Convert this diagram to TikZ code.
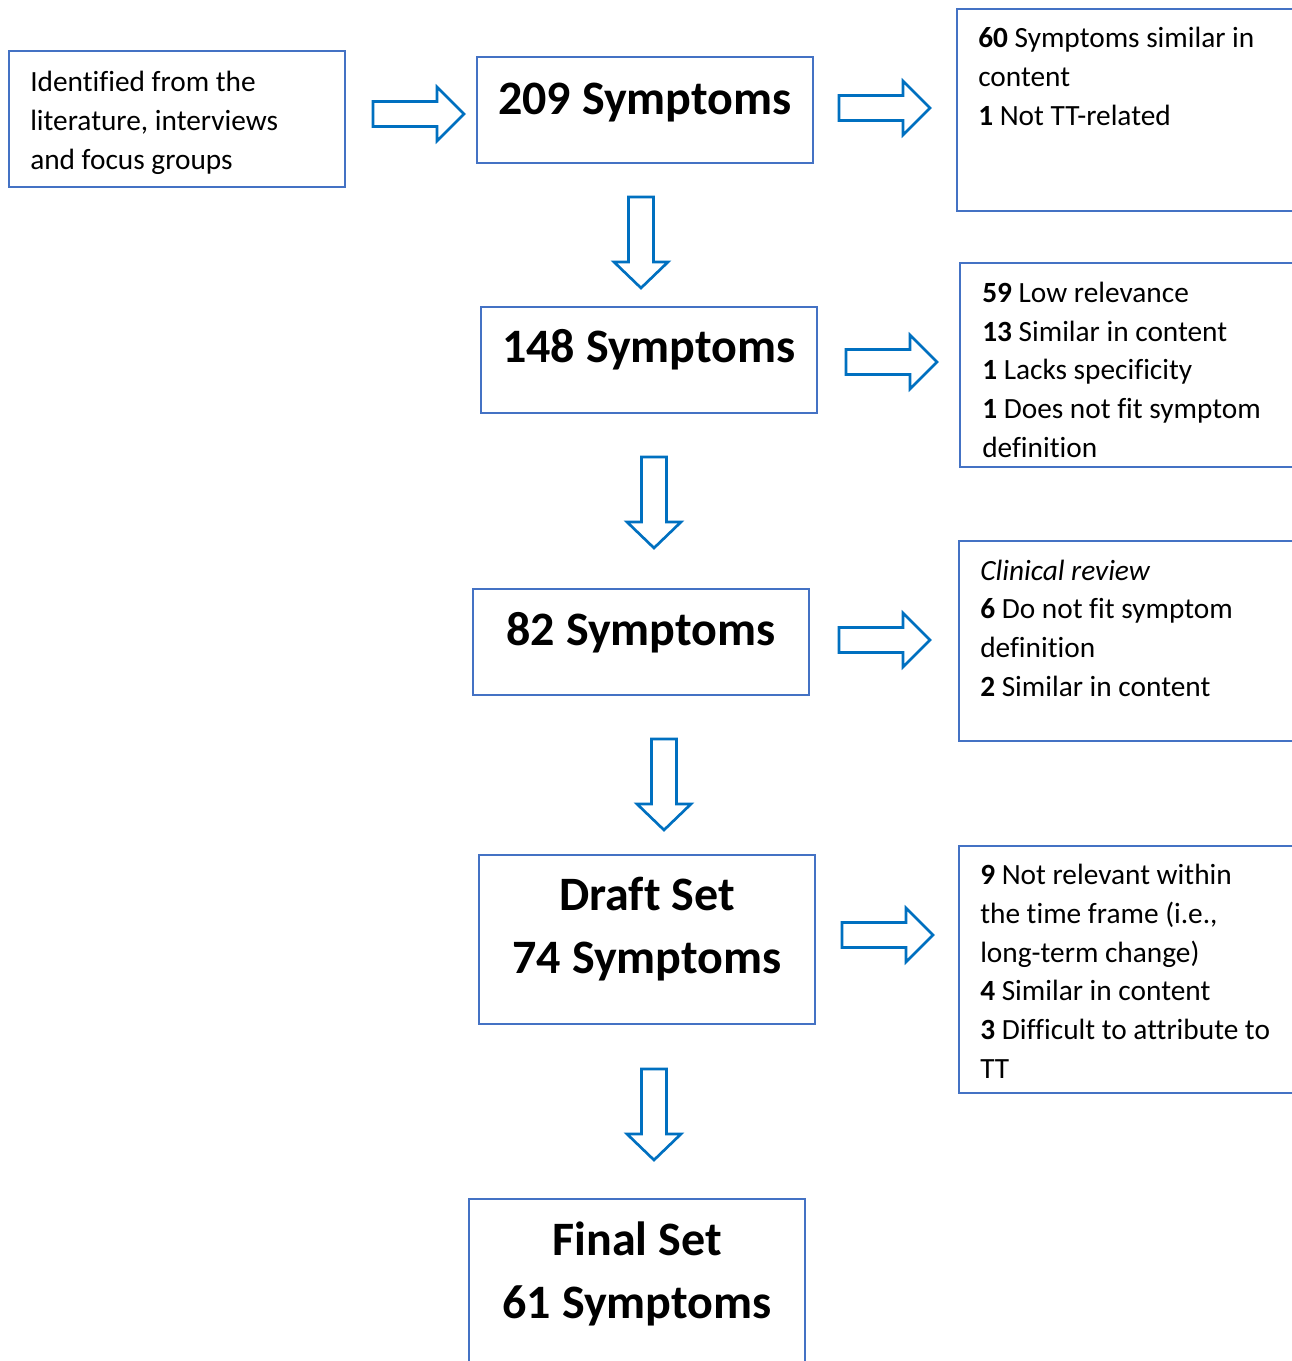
\documentclass[tikz,border=0pt]{standalone}
\usepackage{fontspec}
\setmainfont{Carlito}[Ligatures=NoCommon]
\definecolor{boxblue}{HTML}{4472C4}
\definecolor{arrblue}{HTML}{0070C0}
\newcommand{\bigtxt}{\fontsize{36pt}{47.25pt}\selectfont\bfseries}
\newcommand{\smtxt}{\fontsize{22pt}{29pt}\selectfont}
\newcommand{\rarr}[3]{% name, left x, centre y
  \draw[blockarrow] (#2,#3-12.5) -- (#2+64,#3-12.5) -- (#2+64,#3-27) -- (#2+91,#3)
    -- (#2+64,#3+27) -- (#2+64,#3+12.5) -- (#2,#3+12.5) -- cycle;
  \coordinate (#1) at (#2+45,#3);}
\newcommand{\darr}[3]{% name, centre x, top y
  \draw[blockarrow] (#2-12.5,#3) -- (#2+12.5,#3) -- (#2+12.5,#3+65) -- (#2+27,#3+65)
    -- (#2,#3+91) -- (#2-27,#3+65) -- (#2-12.5,#3+65) -- cycle;
  \coordinate (#1) at (#2,#3+45);}
\begin{document}
\begin{tikzpicture}[x=0.75pt,y=-0.75pt,
  box/.style={draw=boxblue,line width=1.6pt,fill=white},
  blockarrow/.style={draw=arrblue,line width=2pt,line join=miter,fill=white},
  bigt/.style={font=\bigtxt,inner sep=0pt,align=center,anchor=base},
  smt/.style={font=\smtxt,inner sep=0pt,align=left,anchor=base west}]
\useasboundingbox[fill=white] (0,0) rectangle (1292,1361);
\clip (0,0) rectangle (1292,1361);
% boxes
\draw[box] (9,51) rectangle (345,187);
\draw[box] (477,57) rectangle (813,163);
\draw[box] (957,9) rectangle (1310,211);
\draw[box] (481,307) rectangle (817,413);
\draw[box] (960,263) rectangle (1310,467);
\draw[box] (473,589) rectangle (809,695);
\draw[box] (959,541) rectangle (1310,741);
\draw[box] (479,855) rectangle (815,1024);
\draw[box] (959,846) rectangle (1310,1093);
\draw[box] (469,1199) rectangle (805,1400);
% texts (anchored at the baseline of the last line)
\node[smt] (src) at (30,169) {Identified from the\\literature, interviews\\and focus groups};
\node[bigt] (s209) at (645,114) {209 Symptoms};
\node[smt] (ex1) at (978,125) {\textbf{60} Symptoms similar in\\content\\\textbf{1} Not TT-related};
\node[bigt] (s148) at (649,362) {148 Symptoms};
\node[smt] (ex2) at (982,457) {\textbf{59} Low relevance\\\textbf{13} Similar in content\\\textbf{1} Lacks specificity\\\textbf{1} Does not fit symptom\\definition};
\node[bigt] (s82) at (641,645) {82 Symptoms};
\node[smt] (ex3) at (980,696) {\textit{Clinical review}\\\textbf{6} Do not fit symptom\\definition\\\textbf{2} Similar in content};
\node[bigt] (draft) at (647,973) {Draft Set\\74 Symptoms};
\node[smt] (ex4) at (980,1078) {\textbf{9} Not relevant within\\the time frame (i.e.,\\long-term change)\\\textbf{4} Similar in content\\\textbf{3} Difficult to attribute to\\TT};
\node[bigt] (final) at (637,1318) {Final Set\\61 Symptoms};
% arrows
\rarr{a0}{373}{114}
\rarr{a1}{839}{108}
\rarr{a2}{846}{362}
\rarr{a3}{839}{640}
\rarr{a4}{842}{935}
\darr{d1}{641}{197}
\darr{d2}{654}{457}
\darr{d3}{664}{739}
\darr{d4}{654}{1069}
\end{tikzpicture}
\end{document}
